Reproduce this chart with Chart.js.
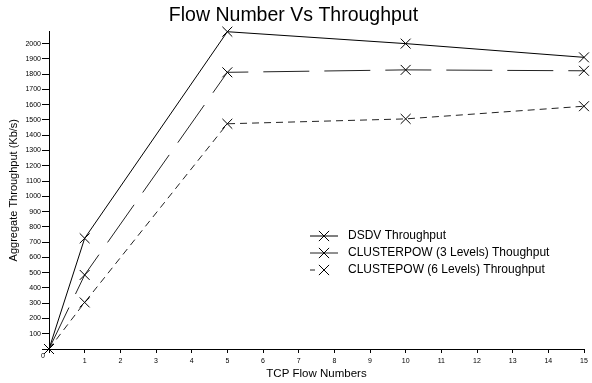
<!DOCTYPE html>
<html>
<head>
<meta charset="utf-8">
<script src="https://cdn.jsdelivr.net/npm/chart.js@4/dist/chart.umd.min.js"></script>
<style>
html,body{margin:0;padding:0;background:#fff;}
#wrap{width:592px;height:383px;position:relative;}
</style>
</head>
<body>
<div id="wrap"><canvas id="c" width="592" height="383"></canvas></div>
<script>
const flowNumbers = [0, 1, 5, 10, 15];
const dsdvThroughput = [0, 725, 2078, 2000, 1910];
const clusterpow3Throughput = [0, 485, 1812, 1828, 1822];
const clusterpow6Throughput = [0, 305, 1475, 1507, 1590];
const seriesNames = ['DSDV Throughput', 'CLUSTERPOW (3 Levels) Thoughput', 'CLUSTEPOW (6 Levels) Throughput'];
const xTicks = [0,1,2,3,4,5,6,7,8,9,10,11,12,13,14,15];

const FONT = "'Liberation Sans', Arial, sans-serif";

function pts(vals){ return flowNumbers.map((x,i)=>({x:x,y:vals[i]})); }

const legendPlugin = {
  id:'customLegend',
  afterDraw(chart){
    const ctx = chart.ctx;
    const x0 = 310, x1 = 338, tx = 348;
    const ys = [236, 253, 270];
    ctx.save();
    chart.data.datasets.forEach((ds,i)=>{
      const y = ys[i];
      ctx.strokeStyle = ds.borderColor;
      ctx.lineWidth = ds.borderWidth;
      ctx.setLineDash(ds.legendDash || []);
      ctx.beginPath(); ctx.moveTo(x0,y); ctx.lineTo(x1,y); ctx.stroke();
      ctx.setLineDash([]);
      const cx = (x0+x1)/2, r = 6;
      ctx.strokeStyle = '#000';
      ctx.beginPath();
      ctx.moveTo(cx-r*0.85,y-r*0.85); ctx.lineTo(cx+r*0.85,y+r*0.85);
      ctx.moveTo(cx+r*0.85,y-r*0.85); ctx.lineTo(cx-r*0.85,y+r*0.85);
      ctx.stroke();
      ctx.fillStyle = '#000';
      ctx.font = "12px " + FONT;
      ctx.textBaseline = 'middle';
      ctx.textAlign = 'left';
      ctx.fillText(ds.label, tx, y);
    });
    const xs = chart.scales.x, yS = chart.scales.y;
    ctx.font = "7px " + FONT;
    ctx.textAlign = 'center';
    ctx.textBaseline = 'middle';
    ctx.fillText('0', xs.getPixelForValue(0) - 6, yS.getPixelForValue(0) + 7);
    ctx.restore();
  }
};

new Chart(document.getElementById('c'), {
  type:'line',
  data:{
    datasets:[
      {label:seriesNames[0], data:pts(dsdvThroughput), borderColor:'#000', borderWidth:1, clip:false,
       pointStyle:'crossRot', pointRadius:7, pointBorderColor:'#000', pointBorderWidth:1, fill:false, tension:0, legendDash:[]},
      {label:seriesNames[1], data:pts(clusterpow3Throughput), borderColor:'#222', borderWidth:1, borderDash:[46,15], clip:false,
       pointStyle:'crossRot', pointRadius:7, pointBorderColor:'#000', pointBorderWidth:1, fill:false, tension:0, legendDash:[]},
      {label:seriesNames[2], data:pts(clusterpow6Throughput), borderColor:'#222', borderWidth:1, borderDash:[7,5], clip:false,
       pointStyle:'crossRot', pointRadius:7, pointBorderColor:'#000', pointBorderWidth:1, fill:false, tension:0, legendDash:[5,30]}
    ]
  },
  options:{
    responsive:false,
    animation:false,
    devicePixelRatio:1,
    layout:{padding:{left:0,right:5,top:0,bottom:0}},
    plugins:{
      legend:{display:false},
      tooltip:{enabled:false},
      title:{display:true, text:'Flow Number Vs Throughput', color:'#000',
        font:{family:FONT, size:19.5, weight:'normal'}, padding:{top:4,bottom:4}}
    },
    scales:{
      x:{
        type:'linear', min:0, max:15,
        afterFit(s){ s.height = 34; },
        afterBuildTicks(s){ s.ticks = xTicks.map(v=>({value:v})); },
        ticks:{color:'#000', font:{family:FONT,size:7}, padding:4, maxRotation:0, autoSkip:false,
          callback:(v)=> v===0 ? '' : String(v)},
        grid:{display:true, drawOnChartArea:false, drawTicks:true, tickLength:4, color:'#000'},
        border:{display:true, color:'#000', width:1},
        title:{display:true, text:'TCP Flow Numbers', color:'#000', font:{family:FONT,size:11.5}, padding:{top:0,bottom:2}}
      },
      y:{
        type:'linear', min:0, max:2080,
        afterFit(s){ s.width = 49; },
        ticks:{stepSize:100, includeBounds:false, color:'#000', font:{family:FONT,size:7}, padding:1,
          callback:(v)=> v===0 ? '' : String(v)},
        grid:{display:true, drawOnChartArea:false, drawTicks:true, tickLength:7, color:'#000'},
        border:{display:true, color:'#000', width:1},
        title:{display:true, text:'Aggregate Throughput (Kb/s)', color:'#000', font:{family:FONT,size:11}, padding:{top:7,bottom:0}}
      }
    }
  },
  plugins:[legendPlugin]
});
</script>
</body>
</html>
